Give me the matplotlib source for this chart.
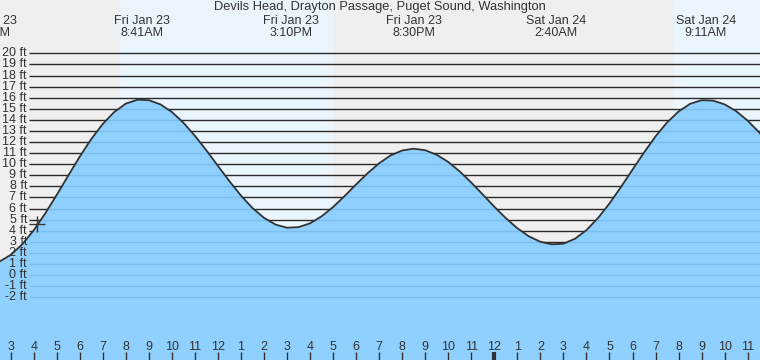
import matplotlib
matplotlib.use("Agg")
import matplotlib.pyplot as plt
import matplotlib.transforms as mtransforms

plt.rcParams['font.family'] = ['Liberation Sans', 'DejaVu Sans']

title = "Devils Head, Drayton Passage, Puget Sound, Washington"

# hours since Fri Jan 23 00:00, heights in ft
hours = [2.0, 2.5, 3.0, 3.5, 4.0, 4.5, 5.0, 5.5, 6.0, 6.5, 7.0, 7.5, 8.0, 8.5,
         9.0, 9.5, 10.0, 10.5, 11.0, 11.5, 12.0, 12.5, 13.0, 13.5, 14.0, 14.5, 15.0,
         15.5, 16.0, 16.5, 17.0, 17.5, 18.0, 18.5, 19.0, 19.5, 20.0, 20.5,
         21.0, 21.5, 22.0, 22.5, 23.0, 23.5, 24.0, 24.5, 25.0, 25.5, 26.0, 26.5,
         27.0, 27.5, 28.0, 28.5, 29.0, 29.5, 30.0, 30.5, 31.0, 31.5, 32.0, 32.5, 33.0,
         33.5, 34.0, 34.5, 35.0, 35.5, 36.0]
heights = [1.00, 1.20, 1.81, 2.77, 4.04, 5.56, 7.24, 8.98, 10.69, 12.28, 13.64, 14.72, 15.47, 15.82,
           15.78, 15.40, 14.71, 13.74, 12.56, 11.24, 9.84, 8.46, 7.16, 6.04, 5.16, 4.55, 4.27,
           4.32, 4.67, 5.30, 6.14, 7.13, 8.18, 9.19, 10.09, 10.80, 11.24, 11.40,
           11.26, 10.85, 10.20, 9.34, 8.34, 7.26, 6.16, 5.13, 4.22, 3.49, 3.00, 2.77,
           2.83, 3.27, 4.05, 5.14, 6.46, 7.95, 9.51, 11.06, 12.51, 13.77, 14.76, 15.45, 15.78,
           15.74, 15.40, 14.79, 13.93, 12.87, 11.67]

# tide extreme labels
event_hours = [2.05, 8.683, 15.167, 20.5, 26.667, 33.183]
event_labels = ["Fri Jan 23\n2:03AM", "Fri Jan 23\n8:41AM", "Fri Jan 23\n3:10PM",
                "Fri Jan 23\n8:30PM", "Sat Jan 24\n2:40AM", "Sat Jan 24\n9:11AM"]

# daylight spans
day_starts = [7.745, 31.76]
day_ends = [17.0, 41.0]

# current marker
now_hour = 4.16
now_height = 4.6

# height grid
levels = list(range(-2, 21))
level_labels = [f"{v} ft" for v in levels]

# bottom hour ticks
tick_hours = list(range(3, 36))
tick_labels = [str(h % 12 if h % 12 else 12) for h in tick_hours]
midnight_hours = [24]

x0, x1 = 2.535, 35.535
y0, y1 = -7.67, 24.82

FS = 9.0

fig = plt.figure(figsize=(7.6, 3.6), dpi=100)
ax = fig.add_axes([0, 0, 1, 1])
ax.set_xlim(x0, x1)
ax.set_ylim(y0, y1)
ax.axis('off')
ax.add_patch(plt.Rectangle((0, 0), 1, 1, transform=ax.transAxes,
                           facecolor='#efefef', edgecolor='none', zorder=0))
for s, e in zip(day_starts, day_ends):
    ax.axvspan(s, e, facecolor='#eaf5fe', edgecolor='none', zorder=0.5)

px = (x1 - x0) / 760.0
line_start = x0 + 29 * px
label_x = x0 + 27 * px

ax.hlines(levels, line_start, x1 + 1, colors='#2a2a2a', linewidth=1.0, zorder=1)
for v, lab in zip(levels, level_labels):
    ax.text(label_x, v, lab, ha='right', va='center', fontsize=FS,
            color='#333333', zorder=5)

fill = ax.fill_between(hours, heights, y0 - 5, facecolor='#8fd0ff',
                       edgecolor='none', zorder=2)
under = ax.hlines(levels, line_start, x1 + 1, colors='#7cbfee', linewidth=1.0, zorder=3)
clip_path = fill.get_paths()[0]
under.set_clip_path(clip_path, ax.transData)

ax.plot(hours, heights, color='#333333', linewidth=1.3, zorder=4)
ax.plot([now_hour], [now_height], marker='+', markersize=11, mew=1.0,
        color='#333333', zorder=6)

bt = mtransforms.blended_transform_factory(ax.transData, ax.transAxes)
for h, lab in zip(event_hours, event_labels):
    ax.text(h, 1 - 14.5 / 360, lab, transform=bt,
            ha='center', va='top', fontsize=FS, color='#333333',
            linespacing=1.0, zorder=6, clip_on=False)

ax.text(0.5, 1 - 1.0 / 360, title, transform=ax.transAxes, ha='center', va='top',
        fontsize=9.3, color='#333333', zorder=7)

for h, lab in zip(tick_hours, tick_labels):
    lw = 3.0 if h in midnight_hours else 1.0
    ax.plot([h, h], [0, 8 / 360], transform=bt, color='#333333', linewidth=lw,
            zorder=6, solid_capstyle='butt')
    ax.text(h, 13 / 360, lab, transform=bt, ha='center', va='center',
            fontsize=FS, color='#333333', zorder=6)

fig.savefig("out.png", dpi=100)
